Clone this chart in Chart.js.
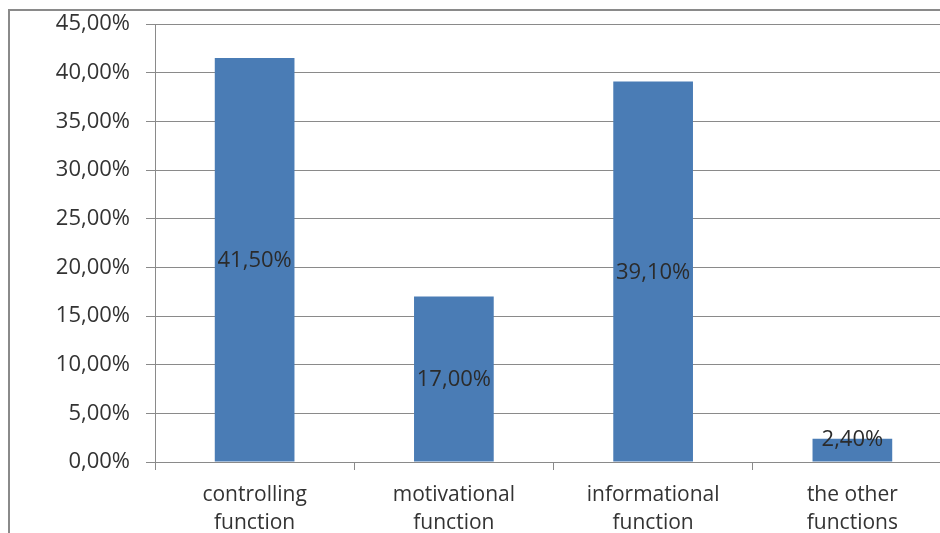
<!DOCTYPE html>
<html>
<head>
<meta charset="utf-8">
<script src="https://cdn.jsdelivr.net/npm/chart.js"></script>
<style>
  html, body { margin: 0; padding: 0; background: #fff; overflow: hidden; }
  #wrap { position: relative; width: 940px; height: 533px; overflow: hidden; }
  #frame { position: absolute; left: 8px; top: 9px; width: 1000px; height: 600px;
           border-left: 2px solid #8a8a8a; border-top: 2px solid #8a8a8a; }
  canvas { position: absolute; left: 0; top: 0; }
</style>
</head>
<body>
<div id="wrap">
  <div id="frame"></div>
  <canvas id="chart" width="960" height="533"></canvas>
</div>
<script>
// categories and values
const categories = [['controlling', 'function'], ['motivational', 'function'], ['informational', 'function'], ['the other', 'functions']];
const shares = [41.5, 17.0, 39.1, 2.4];
const yTicks = [0, 5, 10, 15, 20, 25, 30, 35, 40, 45];

const fmt = v => v.toFixed(2).replace('.', ',') + '%';
const FONT = "'Open Sans', sans-serif";

// value labels in the middle of each bar
const barLabels = {
  id: 'barLabels',
  afterDatasetsDraw(chart) {
    const ctx = chart.ctx;
    const meta = chart.getDatasetMeta(0);
    ctx.save();
    ctx.font = '22px ' + FONT;
    ctx.fillStyle = '#2b2b2b';
    ctx.textAlign = 'center';
    ctx.textBaseline = 'middle';
    meta.data.forEach((bar, i) => {
      let cy = (bar.y + bar.base) / 2;
      if (bar.base - bar.y < 30) cy = bar.y;
      ctx.fillText(fmt(shares[i]), bar.x, cy + 1);
    });
    ctx.restore();
  }
};

new Chart(document.getElementById('chart'), {
  type: 'bar',
  data: {
    labels: categories,
    datasets: [{
      data: shares,
      backgroundColor: '#4a7cb5',
      barPercentage: 0.4,
      categoryPercentage: 1.0
    }]
  },
  options: {
    responsive: false,
    animation: false,
    layout: { padding: { left: 0, right: 8, top: 24, bottom: 0 } },
    plugins: { legend: { display: false }, tooltip: { enabled: false } },
    scales: {
      x: {
        grid: { drawOnChartArea: false, offset: true, tickLength: 8, color: '#8a8a8a' },
        border: { color: '#8a8a8a' },
        ticks: { color: '#333', font: { family: FONT, size: 21, lineHeight: 1.33 }, padding: 11, maxRotation: 0 },
        afterFit(scale) { scale.height = 71; }
      },
      y: {
        min: 0,
        max: 45,
        afterBuildTicks(scale) { scale.ticks = yTicks.map(v => ({ value: v })); },
        grid: { color: '#8a8a8a', tickLength: 9 },
        border: { color: '#8a8a8a' },
        ticks: { color: '#333', font: { family: FONT, size: 22 }, padding: 16, callback: v => fmt(v) },
        afterFit(scale) { scale.width = 155; scale.paddingTop = 0; scale.paddingBottom = 0; }
      }
    }
  },
  plugins: [barLabels]
});
</script>
</body>
</html>
